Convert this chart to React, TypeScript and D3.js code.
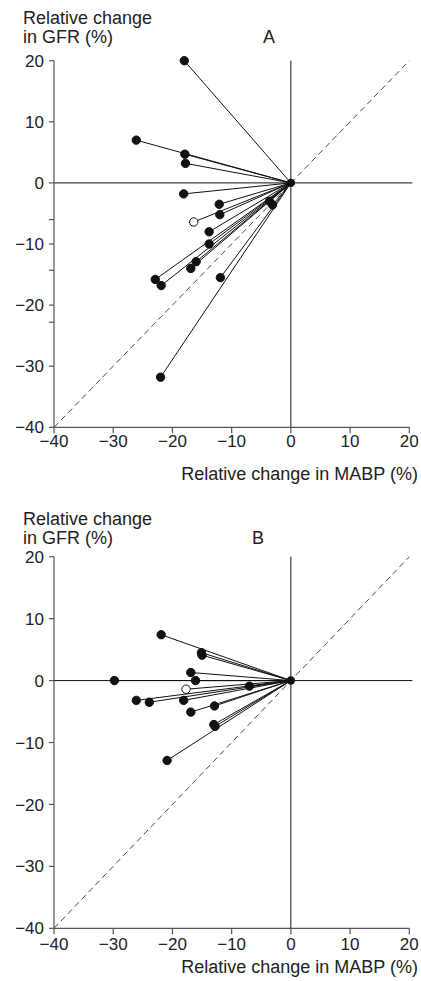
import React from "react";
import * as d3 from "d3";

// Panel A data (relative change in MABP %, relative change in GFR %)
const aMABP = [-18, -26.1, -17.9, -17.8, -18.1, -12.1, -12.0, -16.4, -13.8, -13.8, -16.0, -16.9, -22.9, -21.9, -11.9, -22.0, -3.6, -3.1];
const aGFR = [20, 7.0, 4.7, 3.2, -1.8, -3.5, -5.2, -6.4, -8.0, -10.0, -12.9, -14.0, -15.8, -16.8, -15.5, -31.8, -3.0, -3.6];
const aOpen = [7];
const aMinorTicks = [-6, -14.3, -22.8];

// Panel B data
const bMABP = [-21.9, -15.1, -15.0, -16.9, -29.8, -16.1, -17.7, -7.0, -26.1, -23.9, -18.1, -12.9, -16.9, -13.0, -12.8, -20.9];
const bGFR = [7.4, 4.5, 4.1, 1.3, 0, 0, -1.4, -0.9, -3.2, -3.5, -3.2, -4.1, -5.1, -7.1, -7.4, -12.9];
const bOpen = [6];
const bMinorTicks: number[] = [];

const xTicks = [-40, -30, -20, -10, 0, 10, 20];
const yTicks = [20, 10, 0, -10, -20, -30, -40];

const FONT = "'Liberation Sans', Arial, Helvetica, sans-serif";
const AXIS_COLOR = "#555";
const TICK_FS = 17;
const TITLE_FS = 18;

function fmt(v: number) {
  return v < 0 ? "\u2212" + Math.abs(v) : String(v);
}

type PanelProps = {
  letter: string;
  top: number;
  bottom: number;
  mabp: number[];
  gfr: number[];
  open: number[];
  minor: number[];
  labelY1: number;
  labelY2: number;
  letterX: number;
  tickLabelOffset: number;
  titleY: number;
};

function Panel(p: PanelProps) {
  const x = d3.scaleLinear().domain([-40, 20]).range([54, 409.3]);
  const y = d3.scaleLinear().domain([-40, 20]).range([p.bottom, p.top]);
  const pts = p.mabp.map((m, i) => ({ m, g: p.gfr[i], open: p.open.includes(i) }));
  return (
    <g fontFamily={FONT} fill="#222">
      <text x={23} y={p.labelY1} fontSize={TITLE_FS}>Relative change</text>
      <text x={23} y={p.labelY2} fontSize={TITLE_FS}>in GFR (%)</text>
      <text x={p.letterX} y={p.labelY2} fontSize={TITLE_FS}>{p.letter}</text>

      <line x1={x(-40)} y1={y(-40)} x2={x(20)} y2={y(20)} stroke="#333" strokeWidth={0.9} strokeDasharray="6,4" />
      <line x1={x(-40)} y1={y(0)} x2={x(20) + 3} y2={y(0)} stroke="#111" strokeWidth={1} />
      <line x1={x(0)} y1={y(20)} x2={x(0)} y2={y(-40)} stroke="#111" strokeWidth={1} />

      <line x1={x(-40)} y1={y(20)} x2={x(-40)} y2={y(-40)} stroke={AXIS_COLOR} strokeWidth={1.2} />
      <line x1={x(-40)} y1={y(-40)} x2={x(20)} y2={y(-40)} stroke={AXIS_COLOR} strokeWidth={1.2} />
      {yTicks.map((t) => (
        <g key={"y" + t}>
          <line x1={x(-40) - 5} x2={x(-40)} y1={y(t)} y2={y(t)} stroke={AXIS_COLOR} strokeWidth={1.2} />
          <text x={x(-40) - 10} y={y(t)} dy="0.36em" textAnchor="end" fontSize={TICK_FS}>{fmt(t)}</text>
        </g>
      ))}
      {p.minor.map((t) => (
        <line key={"m" + t} x1={x(-40) - 5} x2={x(-40)} y1={y(t)} y2={y(t)} stroke={AXIS_COLOR} strokeWidth={1.2} />
      ))}
      {xTicks.map((t) => (
        <g key={"x" + t}>
          <line x1={x(t)} x2={x(t)} y1={y(-40)} y2={y(-40) + 6} stroke={AXIS_COLOR} strokeWidth={1.2} />
          <text x={x(t)} y={y(-40) + p.tickLabelOffset} textAnchor="middle" fontSize={TICK_FS}>{fmt(t)}</text>
        </g>
      ))}
      <text x={418} y={p.titleY} textAnchor="end" fontSize={TITLE_FS}>Relative change in MABP (%)</text>

      {pts.map((d, i) => (
        <line key={"l" + i} x1={x(d.m)} y1={y(d.g)} x2={x(0)} y2={y(0)} stroke="#111" strokeWidth={1} />
      ))}
      {pts.map((d, i) => (
        <circle key={"c" + i} cx={x(d.m)} cy={y(d.g)} r={4.2} fill={d.open ? "#fff" : "#111"} stroke="#111" strokeWidth={1} />
      ))}
      <circle cx={x(0)} cy={y(0)} r={4.2} fill="#111" />
    </g>
  );
}

export default function App() {
  return (
    <svg width={421} height={981} style={{ position: "absolute", left: 0, top: 0, background: "#fff" }}>
      <rect width={421} height={981} fill="#fff" />
      <Panel letter="A" top={60.7} bottom={427.3} mabp={aMABP} gfr={aGFR} open={aOpen} minor={aMinorTicks}
        labelY1={24} labelY2={42.5} letterX={263} tickLabelOffset={19.5} titleY={480} />
      <Panel letter="B" top={556.7} bottom={928.3} mabp={bMABP} gfr={bGFR} open={bOpen} minor={bMinorTicks}
        labelY1={525} labelY2={543.5} letterX={252} tickLabelOffset={21.5} titleY={973} />
    </svg>
  );
}
